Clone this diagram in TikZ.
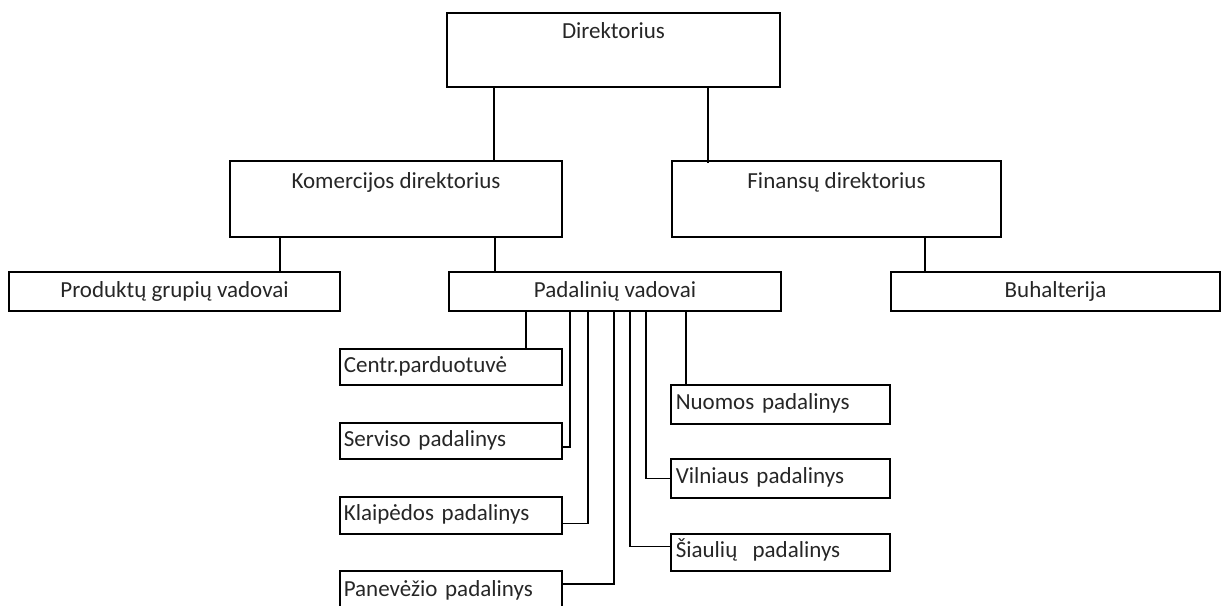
\documentclass[tikz,border=0pt]{standalone}
\usepackage{fontspec}
\setmainfont{Carlito}
\begin{document}
\begin{tikzpicture}[x=1pt,y=-1pt,
  font=\fontsize{23}{27}\selectfont,
  box/.style={draw=black, line width=1.6pt, inner sep=0pt, text=black!85},
  bigbox/.style={box, minimum height=75pt},
  rowbox/.style={box, minimum height=39pt, text height=16pt, text depth=5pt},
  leftbox/.style={box, anchor=north west, inner xsep=4pt, text width=214pt, align=left, text height=16pt, text depth=5pt},
  rightbox/.style={box, anchor=north west, inner xsep=5pt, text width=209pt, align=left, text height=16pt, text depth=5pt},
  txt/.style={inner sep=0pt, text=black!85, text height=16pt, text depth=5pt},
  link/.style={draw=black, line width=1.6pt}]
\useasboundingbox (0,0) rectangle (1223,605);
\clip (0,0) rectangle (1223,605);
% top level
\node[bigbox, minimum width=333pt, minimum height=74pt] (dir) at (613.5,50) {};
\node[txt] (dirt) at ([yshift=-21pt]dir.north) {Direktorius};
% second level
\node[bigbox, minimum width=332pt, minimum height=76pt] (kom) at (396,199) {};
\node[txt] (komt) at ([yshift=-23pt]kom.north) {Komercijos direktorius};
\node[bigbox, minimum width=329pt, minimum height=76pt] (fin) at (836.5,199) {};
\node[txt] (fint) at ([yshift=-23pt]fin.north) {Finansų direktorius};
% third level
\node[rowbox, minimum width=331pt] (prod) at (174.5,291.5) {Produktų grupių vadovai};
\node[rowbox, minimum width=332pt] (pad) at (615,291.5) {Padalinių vadovai};
\node[rowbox, minimum width=329pt] (buh) at (1055.5,291.5) {Buhalterija};
% branches left
\node[leftbox, minimum height=36pt] (centr) at (339,348) {Centr.parduotuvė};
\node[leftbox, minimum height=36pt] (serv) at (339,422) {Serviso padalinys};
\node[leftbox, minimum height=37pt] (klai) at (339,496) {Klaipėdos padalinys};
\node[leftbox, minimum height=40pt] (pane) at (339,570) {Panevėžio padalinys};
% branches right
\node[rightbox, minimum height=39pt] (nuom) at (670,384) {Nuomos padalinys};
\node[rightbox, minimum height=39pt] (viln) at (670,458) {Vilniaus padalinys};
\node[rightbox, minimum height=37pt] (siau) at (670,533) {Šiaulių\ \ padalinys};
% connector anchors
\coordinate (d1) at ([xshift=48pt]dir.south west);
\coordinate (d2) at ([xshift=262pt]dir.south west);
\coordinate (k1) at ([xshift=51pt]kom.south west);
\coordinate (k2) at ([xshift=266pt]kom.south west);
\coordinate (f1) at ([xshift=254pt]fin.south west);
\coordinate (p1) at ([xshift=78pt]pad.south west);
\coordinate (p2) at ([xshift=122pt]pad.south west);
\coordinate (p3) at ([xshift=140pt]pad.south west);
\coordinate (p4) at ([xshift=166pt]pad.south west);
\coordinate (p5) at ([xshift=182pt]pad.south west);
\coordinate (p6) at ([xshift=198pt]pad.south west);
\coordinate (p7) at ([xshift=238pt]pad.south west);
% connectors
\draw[link] (d1) -- (d1 |- kom.north);
\draw[link] (d2) -- ([yshift=-3pt]d2 |- fin.north);
\draw[link] (k1) -- (k1 |- prod.north);
\draw[link] (k2) -- (k2 |- pad.north);
\draw[link] (f1) -- (f1 |- buh.north);
\draw[link] (p1) -- (p1 |- centr.north);
\draw[link] (p2) |- ([yshift=-6pt]serv.east);
\draw[link] (p3) |- ([yshift=-8pt]klai.east);
\draw[link] (p4) |- ([yshift=7pt]pane.east);
\draw[link] (p5) |- ([yshift=6pt]siau.west);
\draw[link] (p6) |- (viln.west);
\draw[link] (p7) -- (p7 |- nuom.north);
\end{tikzpicture}
\end{document}
